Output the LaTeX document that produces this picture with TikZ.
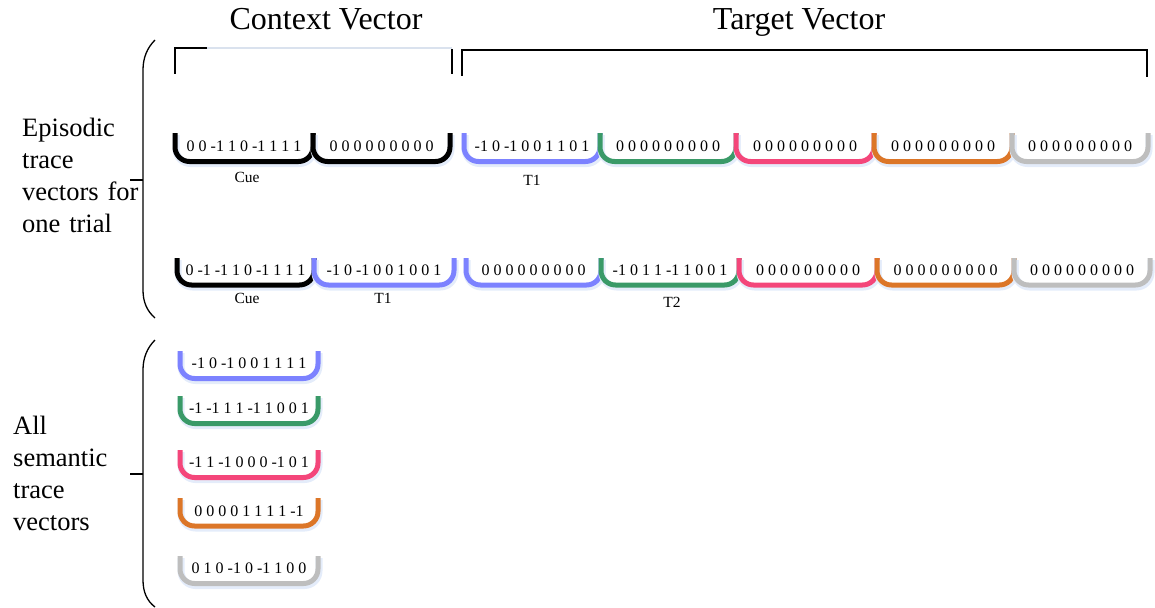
\documentclass[tikz,border=0pt]{standalone}
\usepackage{fontspec}
\setmainfont{Liberation Serif}
\definecolor{cblack}{RGB}{0,0,0}
\definecolor{cblue}{RGB}{124,130,255}
\definecolor{cgreen}{RGB}{58,154,104}
\definecolor{cpink}{RGB}{244,70,122}
\definecolor{corange}{RGB}{220,118,40}
\definecolor{cgray}{RGB}{190,190,190}
\definecolor{clight}{RGB}{218,226,238}
\definecolor{cshadow}{RGB}{228,236,250}
\tikzset{
  cupline/.style={line width=5pt, rounded corners=14.5pt},
  cupshadow/.style={line width=7pt, rounded corners=14.5pt, draw=cshadow},
  numtext/.style={font=\fontsize{16}{19}\selectfont, inner sep=0pt, anchor=base},
  lbl/.style={font=\fontsize{15.5}{18}\selectfont, inner sep=0pt, anchor=base},
  title/.style={font=\fontsize{32}{38}\selectfont, inner sep=0pt, anchor=base},
  side/.style={font=\fontsize{26.5}{32.3}\selectfont, inner sep=0pt, anchor=base west, align=left, text width=150pt},
  bracket/.style={line width=2.4pt},
  brace/.style={line width=1.3pt},
}
\newcommand{\vcup}[7]{%
  \draw[cupshadow] ({#3+1},{#5+2}) -- ({#3+1},{#6+2}) -- ({#4+1},{#6+2}) -- ({#4+1},{#5+2});
  \draw[cupline, draw=#2] (#3,#5) -- (#3,#6) -- (#4,#6) -- (#4,#5);
  \node[numtext] (#1) at ({(#3+#4)/2},{#6-10}) {#7};
}
\begin{document}
\begin{tikzpicture}[x=1pt,y=-1pt]
\useasboundingbox (0,0) rectangle (1155,607);

% titles
\node[title] (ctx) at (326,30) {Context Vector};
\node[title] (tgt) at (799,30) {Target Vector};

% top brackets
\draw[bracket, draw=clight, line width=1.5pt] (207,48) -- (452,48);
\draw[bracket] (207,48) -- (175,48) -- (175,74);
\draw[bracket] (452,49) -- (452,74);
\draw[bracket] (462,76) -- (462,50) -- (1147,50) -- (1147,77);

% side labels
\node[side] (epi) at (22,136) {Episodic\\trace\\vectors for\\one trial};
\node[side] (sem) at (13,434) {All\\semantic\\trace\\vectors};

% braces
\coordinate (b1t) at (155,40);
\coordinate (b1b) at (155,318);
\coordinate (b1m) at (143,180);
\coordinate (b1k) at (130,180);
\draw[brace] (b1t) .. controls (147,48) and (143,58) .. (143,70) -- (143,290) .. controls (143,302) and (147,311) .. (b1b);
\draw[brace] (b1k) -- (b1m);
\coordinate (b2t) at (155,340);
\coordinate (b2b) at (155,607);
\coordinate (b2m) at (143,474);
\coordinate (b2k) at (130,474);
\draw[brace] (b2t) .. controls (147,348) and (143,358) .. (143,370) -- (143,580) .. controls (143,592) and (147,601) .. (b2b);
\draw[brace] (b2k) -- (b2m);

% row 1
\vcup{r1a}{cblack}{175}{313}{133}{161.5}{0 0 -1 1 0 -1 1 1 1}
\vcup{r1b}{cblack}{313}{450}{133}{161.5}{0 0 0 0 0 0 0 0 0}
\vcup{r1c}{cblue}{464}{600}{133}{161.5}{-1 0 -1 0 0 1 1 0 1}
\vcup{r1d}{cgreen}{600}{736}{133}{161.5}{0 0 0 0 0 0 0 0 0}
\vcup{r1e}{cpink}{736}{874}{133}{161.5}{0 0 0 0 0 0 0 0 0}
\vcup{r1f}{corange}{874}{1012}{133}{161.5}{0 0 0 0 0 0 0 0 0}
\vcup{r1g}{cgray}{1012}{1148}{133}{161.5}{0 0 0 0 0 0 0 0 0}
\node[lbl] (cue1) at (247,182) {Cue};
\node[lbl] (t1a) at (532,185) {T1};

% row 2
\vcup{r2a}{cblack}{177}{314}{258}{285}{0 -1 -1 1 0 -1 1 1 1}
\vcup{r2b}{cblue}{314}{454}{258}{285}{-1 0 -1 0 0 1 0 0 1}
\vcup{r2c}{cblue}{466}{601}{258}{285}{0 0 0 0 0 0 0 0 0}
\vcup{r2d}{cgreen}{601}{739}{258}{285}{-1 0 1 1 -1 1 0 0 1}
\vcup{r2e}{cpink}{739}{877}{258}{285}{0 0 0 0 0 0 0 0 0}
\vcup{r2f}{corange}{877}{1014}{258}{285}{0 0 0 0 0 0 0 0 0}
\vcup{r2g}{cgray}{1014}{1150}{258}{285}{0 0 0 0 0 0 0 0 0}
\node[lbl] (cue2) at (247,303) {Cue};
\node[lbl] (t1b) at (383,303) {T1};
\node[lbl] (t2) at (672,307) {T2};

% semantic
\vcup{s1}{cblue}{180}{318}{351}{378.5}{-1 0 -1 0 0 1 1 1 1}
\vcup{s2}{cgreen}{180}{318}{396}{423.5}{-1 -1 1 1 -1 1 0 0 1}
\vcup{s3}{cpink}{180}{318}{450}{477.5}{-1 1 -1 0 0 0 -1 0 1}
\vcup{s4}{corange}{180}{318}{498}{526}{0 0 0 0 1 1 1 1 -1}
\vcup{s5}{cgray}{180}{318}{556}{583.5}{0 1 0 -1 0 -1 1 0 0}
\end{tikzpicture}
\end{document}
